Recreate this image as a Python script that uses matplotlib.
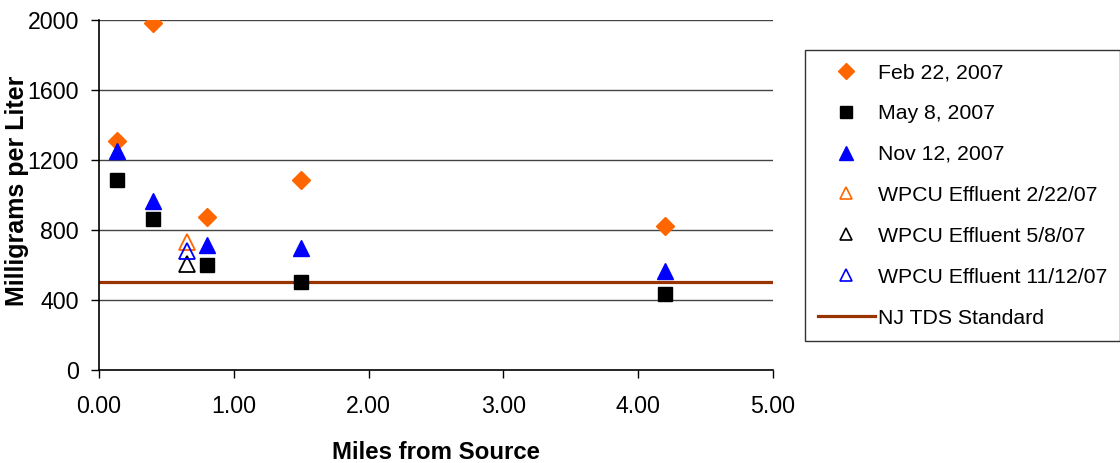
import matplotlib
matplotlib.use("Agg")
import matplotlib.pyplot as plt
from matplotlib.lines import Line2D

plt.rcParams['font.family'] = ['Liberation Sans', 'DejaVu Sans']

# Sampling locations (miles from source)
miles = [0.13, 0.40, 0.80, 1.50, 4.20]
feb_2007 = [1310, 1982, 876, 1083, 823]
may_2007 = [1086, 863, 600, 505, 434]
nov_2007 = [1251, 968, 714, 695, 566]

# WPCU effluent location and values
effluent_mile = [0.65]
effluent_feb = [733]
effluent_may = [604]
effluent_nov = [682]

nj_tds_standard = 500
x_ticks = [0, 1, 2, 3, 4, 5]
y_ticks = [0, 400, 800, 1200, 1600, 2000]

fig = plt.figure(figsize=(11.2, 4.63), dpi=100)
ax = fig.add_axes([0.0884, 0.2009, 0.6018, 0.7559])

ax.set_xlim(0, 5)
ax.set_ylim(0, 2000)
for y in y_ticks[1:]:
    ax.axhline(y, color='#444444', lw=1.0, zorder=1)

ax.axhline(nj_tds_standard, color='#993300', lw=2.3, zorder=2)

ax.plot(miles, feb_2007, ls='none', marker='D', ms=9, color='#FF6600', zorder=3)
ax.plot(miles, may_2007, ls='none', marker='s', ms=10, color='black', zorder=3)
ax.plot(miles, nov_2007, ls='none', marker='^', ms=11, color='#0000FF', zorder=3)
ax.plot(effluent_mile, effluent_feb, ls='none', marker='^', ms=11, mfc='white',
        mec='#FF6600', mew=1.3, zorder=3)
ax.plot(effluent_mile, effluent_may, ls='none', marker='^', ms=11, mfc='white',
        mec='black', mew=1.3, zorder=3)
ax.plot(effluent_mile, effluent_nov, ls='none', marker='^', ms=11, mfc='none',
        mec='#0000FF', mew=1.3, zorder=4)

ax.set_xticks(x_ticks)
ax.set_xticklabels([f"{v:.2f}" for v in x_ticks])
ax.set_yticks(y_ticks)
ax.tick_params(direction='out', length=6, width=1, labelsize=16.7)
ax.tick_params(axis='x', pad=12)
ax.tick_params(axis='y', pad=8.5)

for side in ('top', 'right'):
    ax.spines[side].set_visible(False)
ax.spines['left'].set_linewidth(1.2)
ax.spines['bottom'].set_linewidth(1.2)

ax.set_xlabel('Miles from Source', fontsize=17.3, fontweight='bold', va='center')
ax.xaxis.set_label_coords(0.5, -0.237)
ax.set_ylabel('Milligrams per Liter', fontsize=18, fontweight='bold', va='center')
ax.yaxis.set_label_coords(-0.1224, 0.511)

handles = [
    Line2D([], [], ls='none', marker='D', ms=8, color='#FF6600'),
    Line2D([], [], ls='none', marker='s', ms=8, color='black'),
    Line2D([], [], ls='none', marker='^', ms=10, color='#0000FF'),
    Line2D([], [], ls='none', marker='^', ms=9, mfc='white', mec='#FF6600', mew=1.2),
    Line2D([], [], ls='none', marker='^', ms=9, mfc='white', mec='black', mew=1.2),
    Line2D([], [], ls='none', marker='^', ms=9, mfc='white', mec='#0000FF', mew=1.2),
    Line2D([], [], color='#993300', lw=2.3),
]
labels = ['Feb 22, 2007', 'May 8, 2007', 'Nov 12, 2007', 'WPCU Effluent 2/22/07',
          'WPCU Effluent 5/8/07', 'WPCU Effluent 11/12/07', 'NJ TDS Standard']
leg = fig.legend(handles, labels, loc='upper left', bbox_to_anchor=(0.7188, 0.892),
                 borderaxespad=0, fontsize=15.3, frameon=True, fancybox=False,
                 edgecolor='black', labelspacing=1.03, handlelength=2.65,
                 borderpad=0.62, handletextpad=0.15)
leg.get_frame().set_linewidth(1.0)

fig.savefig('out.png', dpi=100)
